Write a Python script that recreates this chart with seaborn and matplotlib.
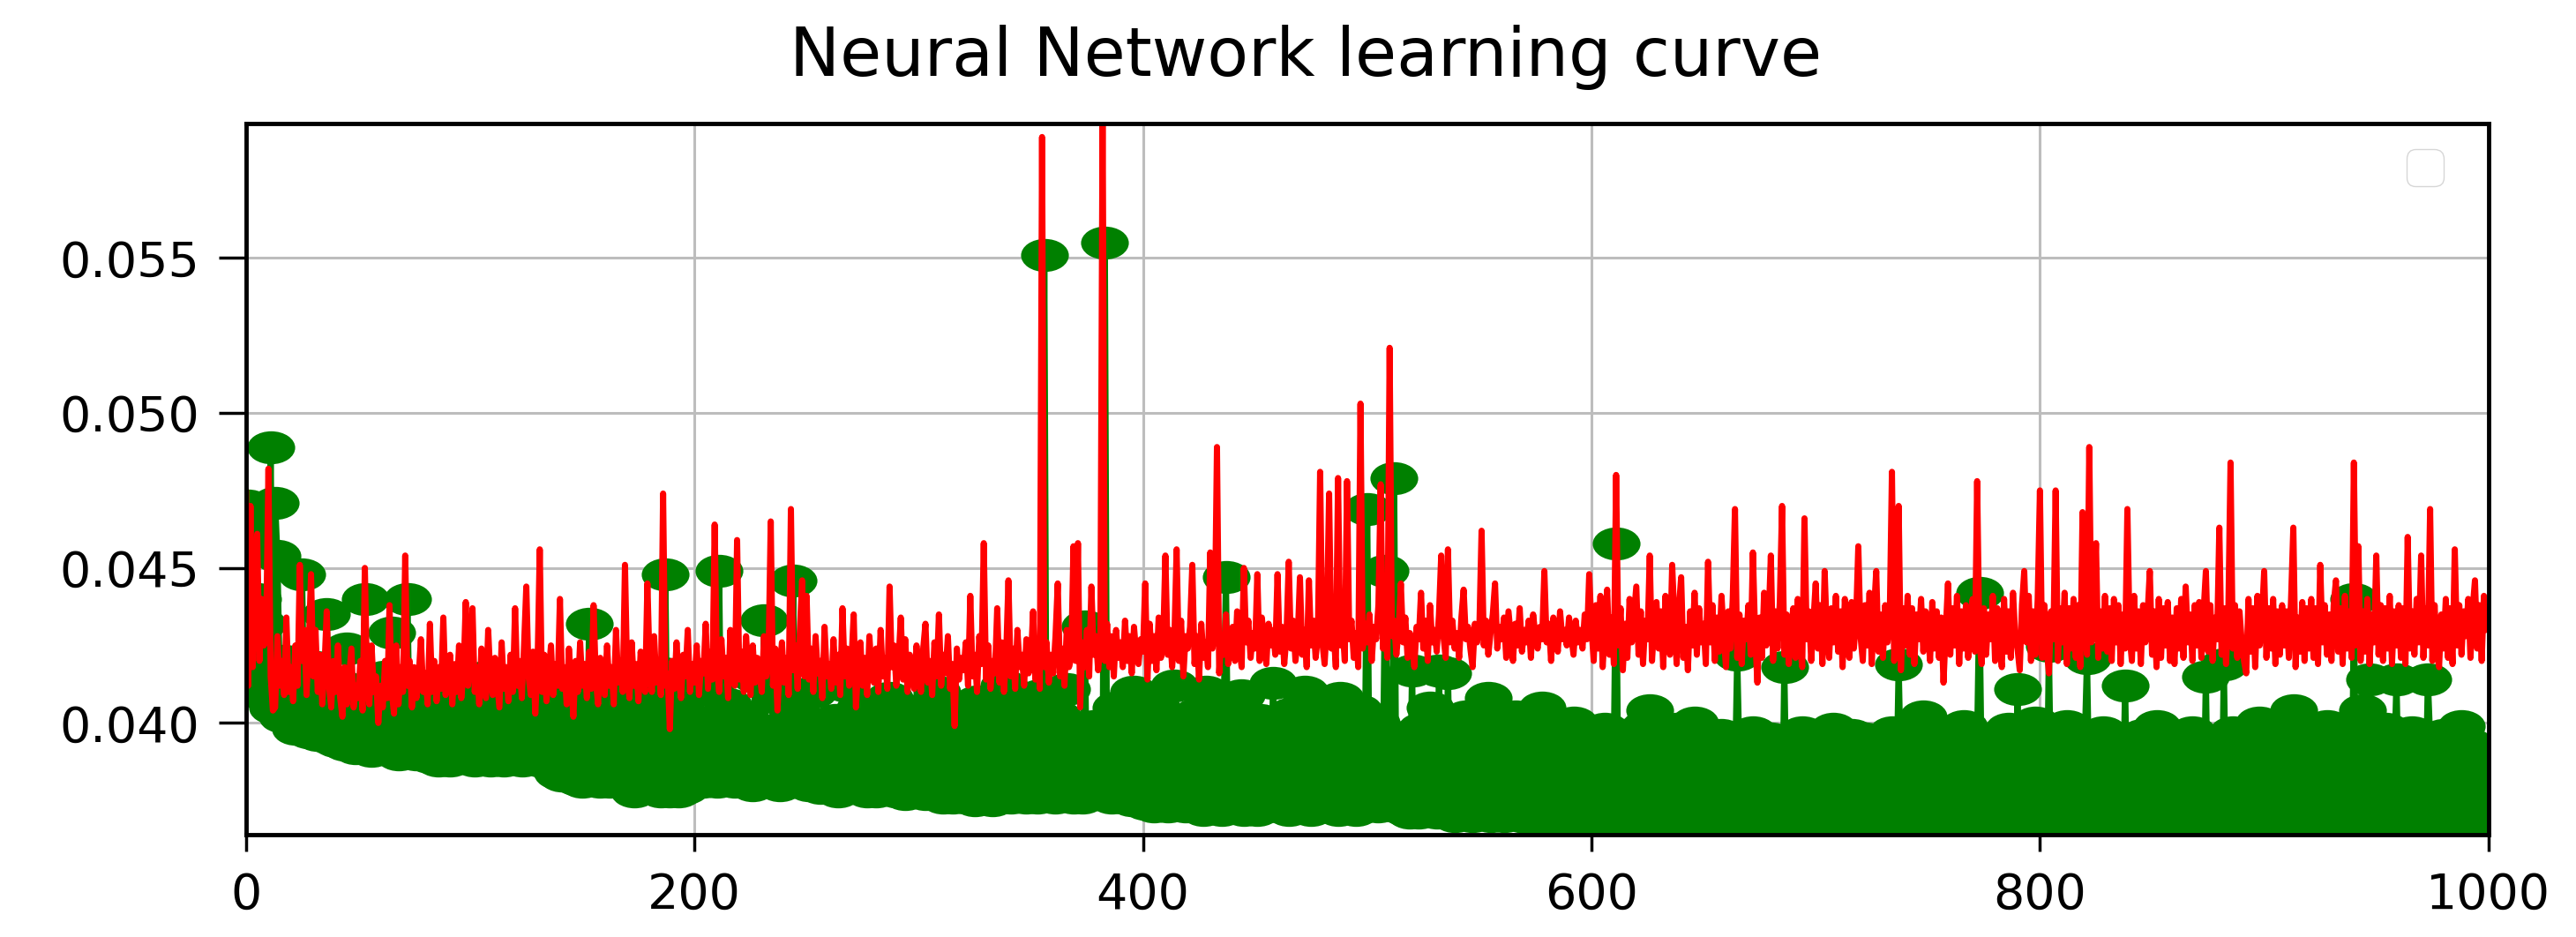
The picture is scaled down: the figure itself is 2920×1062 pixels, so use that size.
import numpy as np
import matplotlib
matplotlib.use("Agg")
import matplotlib.pyplot as plt
import seaborn as sns
from matplotlib.path import Path
from matplotlib.transforms import Affine2D

# loss per epoch, units of 1e-4
val_loss = [
    475, 412, 470, 418, 445, 461, 420, 440, 425, 430, 482, 415, 404, 405, 428, 412, 420, 409, 434, 410,
    418, 407, 425, 412, 451, 420, 430, 409, 425, 448, 415, 430, 410, 422, 406, 418, 436, 412, 405, 420,
    410, 425, 408, 402, 418, 406, 415, 424, 405, 412, 408, 420, 404, 450, 412, 406, 425, 410, 415, 400,
    412, 405, 420, 408, 438, 410, 403, 425, 406, 418, 410, 454, 412, 420, 405, 418, 408, 415, 427, 410,
    416, 406, 432, 410, 420, 407, 418, 411, 434, 409, 415, 422, 406, 419, 410, 425, 408, 416, 439, 412,
    420, 437, 410, 418, 406, 424, 412, 408, 430, 414, 409, 421, 413, 405, 426, 411, 418, 407, 422, 410,
    437, 412, 420, 408, 425, 444, 415, 409, 423, 403, 418, 456, 410, 422, 407, 416, 425, 409, 419, 412,
    440, 411, 418, 406, 424, 413, 402, 420, 410, 426, 412, 419, 408, 423, 411, 438, 414, 406, 421, 415,
    409, 425, 412, 418, 406, 430, 413, 420, 410, 451, 415, 408, 426, 412, 419, 407, 423, 414, 410, 445,
    418, 410, 428, 413, 420, 409, 474, 412, 416, 398, 420, 411, 426, 414, 408, 422, 415, 430, 410, 419,
    413, 425, 409, 420, 416, 432, 411, 423, 414, 464, 418, 410, 427, 415, 421, 408, 430, 416, 412, 459,
    414, 423, 410, 428, 417, 409, 425, 413, 421, 416, 410, 428, 415, 420, 465, 412, 424, 404, 418, 426,
    413, 421, 409, 469, 417, 425, 411, 430, 446, 415, 441, 414, 424, 410, 428, 416, 420, 408, 431, 415,
    419, 411, 427, 413, 422, 409, 437, 415, 424, 412, 420, 435, 405, 418, 426, 412, 421, 409, 428, 416,
    413, 424, 410, 430, 415, 421, 411, 444, 418, 425, 412, 420, 434, 414, 427, 410, 422, 416, 411, 425,
    418, 410, 424, 432, 413, 420, 409, 426, 415, 435, 412, 422, 416, 428, 411, 419, 399, 424, 414, 421,
    417, 426, 412, 441, 415, 422, 410, 428, 419, 458, 414, 425, 411, 420, 416, 437, 413, 426, 410, 422,
    446, 415, 424, 411, 430, 418, 422, 412, 427, 416, 420, 436, 414, 425, 411, 589, 418, 426, 413, 422,
    416, 428, 445, 415, 424, 412, 430, 418, 421, 457, 420, 458, 405, 426, 418, 430, 415, 444, 422, 428,
    417, 425, 600, 420, 432, 418, 428, 415, 430, 421, 426, 418, 433, 420, 428, 416, 431, 422, 419, 427,
    423, 445, 414, 432, 420, 428, 417, 434, 421, 426, 454, 422, 430, 418, 427, 456, 420, 433, 415, 428,
    424, 431, 451, 419, 428, 414, 432, 421, 426, 418, 455, 424, 430, 489, 416, 428, 422, 435, 419, 427,
    431, 420, 436, 424, 418, 450, 426, 433, 421, 429, 424, 448, 420, 434, 427, 419, 432, 425, 430, 422,
    448, 423, 431, 419, 428, 452, 424, 433, 420, 427, 447, 422, 430, 418, 446, 425, 433, 421, 428, 481,
    426, 419, 432, 474, 424, 430, 418, 479, 425, 431, 420, 478, 427, 433, 421, 429, 418, 503, 424, 432,
    426, 435, 420, 431, 427, 438, 477, 424, 430, 421, 521, 428, 433, 422, 430, 445, 426, 434, 421, 429,
    425, 418, 431, 427, 442, 424, 433, 420, 438, 426, 430, 423, 435, 454, 428, 421, 456, 426, 433, 424,
    429, 421, 434, 443, 427, 431, 424, 418, 432, 426, 430, 462, 425, 433, 422, 429, 435, 445, 424, 431,
    427, 434, 421, 436, 428, 420, 432, 425, 437, 423, 430, 426, 433, 421, 435, 428, 424, 431, 427, 449,
    426, 432, 420, 434, 429, 423, 436, 427, 430, 425, 434, 428, 422, 433, 426, 430, 424, 435, 427, 448,
    431, 420, 438, 424, 441, 418, 430, 443, 422, 434, 419, 480, 425, 437, 417, 432, 421, 440, 426, 435,
    444, 422, 436, 419, 433, 427, 454, 420, 432, 439, 424, 436, 418, 441, 428, 422, 451, 433, 419, 437,
    447, 421, 431, 417, 436, 425, 442, 422, 437, 426, 432, 419, 452, 426, 438, 420, 434, 423, 441, 428,
    418, 436, 424, 440, 469, 421, 435, 419, 433, 427, 438, 422, 455, 428, 413, 434, 421, 442, 425, 433,
    454, 420, 436, 424, 439, 470, 422, 435, 419, 430, 437, 421, 440, 425, 418, 466, 427, 436, 420, 433,
    445, 424, 438, 419, 449, 428, 421, 437, 426, 441, 423, 436, 418, 440, 427, 421, 439, 424, 433, 457,
    428, 420, 438, 425, 442, 419, 436, 449, 423, 435, 421, 438, 426, 433, 481, 420, 435, 470, 417, 437,
    425, 441, 422, 437, 419, 435, 427, 440, 423, 436, 431, 420, 439, 424, 436, 421, 434, 413, 430, 445,
    422, 437, 425, 441, 419, 436, 424, 438, 421, 433, 440, 423, 478, 426, 419, 437, 422, 435, 427, 441,
    420, 437, 425, 418, 440, 423, 436, 421, 442, 428, 424, 417, 438, 449, 426, 441, 420, 436, 422, 440,
    475, 421, 438, 424, 416, 436, 427, 475, 420, 437, 426, 442, 419, 437, 424, 440, 421, 438, 418, 468,
    430, 422, 489, 426, 439, 458, 421, 436, 424, 441, 423, 437, 420, 440, 426, 438, 419, 435, 424, 469,
    428, 420, 441, 424, 436, 419, 438, 426, 435, 449, 422, 436, 418, 440, 421, 437, 425, 439, 420, 434,
    419, 437, 424, 440, 421, 444, 426, 435, 420, 438, 425, 439, 421, 436, 449, 423, 438, 420, 434, 427,
    463, 422, 437, 419, 435, 484, 424, 438, 421, 436, 426, 420, 416, 440, 423, 437, 418, 441, 425, 434,
    449, 421, 437, 424, 440, 419, 436, 422, 438, 425, 436, 421, 440, 463, 418, 434, 423, 439, 420, 437,
    424, 440, 421, 437, 419, 451, 426, 438, 422, 435, 420, 438, 446, 423, 437, 419, 441, 424, 436, 421,
    484, 425, 457, 420, 436, 423, 440, 419, 435, 426, 454, 422, 438, 420, 437, 424, 441, 419, 436, 425,
    438, 421, 437, 419, 460, 424, 436, 422, 440, 426, 454, 421, 437, 425, 469, 420, 438, 423, 418, 435,
    424, 440, 421, 437, 419, 456, 425, 438, 422, 436, 428, 440, 421, 437, 446, 424, 438, 420, 441, 430,
]

train_loss = [
    455, 470, 431, 463, 425, 440, 418, 432, 412, 420, 408, 489, 405, 471, 454, 415, 402, 420, 408, 412,
    401, 410, 398, 415, 404, 448, 400, 412, 397, 406, 398, 418, 396, 404, 410, 399, 435, 402, 395, 408,
    394, 405, 412, 398, 393, 424, 401, 396, 410, 392, 399, 393, 405, 440, 395, 402, 391, 410, 396, 403,
    392, 400, 415, 394, 398, 429, 393, 405, 390, 397, 402, 391, 440, 396, 392, 408, 390, 399, 394, 404,
    391, 397, 389, 406, 393, 400, 388, 395, 412, 389, 396, 388, 403, 391, 398, 389, 410, 393, 389, 401,
    390, 396, 388, 405, 392, 389, 398, 415, 391, 388, 395, 389, 402, 390, 397, 388, 409, 392, 389, 396,
    389, 400, 391, 388, 412, 393, 389, 397, 390, 404, 392, 388, 398, 390, 407, 389, 395, 386, 400, 384,
    391, 383, 396, 388, 410, 385, 392, 382, 399, 386, 381, 394, 386, 432, 382, 390, 385, 405, 381, 393,
    384, 398, 381, 389, 412, 383, 391, 381, 402, 386, 381, 393, 385, 378, 399, 382, 409, 384, 380, 395,
    379, 387, 401, 380, 392, 378, 416, 448, 383, 378, 396, 381, 388, 378, 404, 383, 379, 393, 386, 410,
    382, 390, 384, 400, 381, 395, 383, 412, 386, 392, 381, 449, 385, 397, 382, 406, 384, 391, 381, 398,
    385, 381, 402, 387, 382, 393, 380, 415, 384, 389, 381, 433, 384, 396, 381, 390, 383, 408, 380, 387,
    399, 382, 391, 385, 446, 381, 403, 384, 389, 381, 395, 380, 386, 410, 382, 392, 379, 398, 383, 387,
    379, 394, 382, 401, 378, 389, 384, 412, 380, 392, 381, 386, 397, 379, 405, 383, 390, 378, 395, 382,
    388, 378, 402, 381, 393, 379, 387, 408, 380, 391, 378, 396, 382, 389, 377, 404, 381, 392, 378, 386,
    398, 379, 385, 377, 401, 382, 390, 378, 410, 381, 387, 376, 395, 380, 384, 376, 403, 379, 391, 377,
    383, 376, 398, 380, 388, 375, 407, 379, 385, 376, 394, 377, 383, 375, 400, 378, 389, 376, 412, 380,
    386, 376, 397, 381, 377, 404, 379, 390, 376, 384, 377, 399, 382, 376, 409, 388, 551, 380, 393, 377,
    386, 376, 402, 379, 390, 377, 411, 381, 385, 376, 395, 378, 388, 376, 431, 380, 392, 377, 399, 383,
    377, 390, 381, 555, 378, 396, 376, 385, 405, 379, 388, 376, 399, 380, 386, 375, 410, 378, 391, 376,
    384, 374, 397, 379, 388, 373, 405, 377, 392, 374, 386, 373, 399, 378, 412, 374, 390, 376, 383, 373,
    395, 377, 386, 373, 403, 375, 389, 372, 410, 378, 384, 373, 396, 376, 389, 372, 404, 447, 381, 375,
    392, 373, 385, 378, 409, 372, 388, 375, 396, 373, 383, 372, 401, 376, 390, 373, 385, 374, 413, 377,
    388, 373, 395, 376, 384, 372, 403, 378, 391, 373, 386, 374, 410, 377, 389, 372, 397, 375, 384, 373,
    402, 376, 388, 373, 395, 374, 386, 372, 408, 377, 383, 373, 399, 376, 390, 372, 404, 385, 375, 393,
    469, 380, 391, 375, 400, 373, 386, 384, 449, 396, 389, 378, 479, 373, 387, 376, 395, 372, 384, 371,
    417, 374, 386, 371, 398, 375, 389, 372, 405, 376, 384, 371, 417, 375, 390, 372, 416, 378, 386, 370,
    397, 373, 385, 371, 402, 376, 389, 370, 395, 374, 383, 371, 392, 376, 408, 370, 386, 374, 399, 372,
    388, 370, 396, 375, 384, 371, 402, 373, 390, 370, 385, 372, 398, 369, 389, 374, 383, 370, 405, 373,
    391, 369, 386, 373, 397, 370, 384, 375, 393, 369, 387, 371, 400, 370, 385, 374, 392, 369, 388, 372,
    384, 368, 395, 376, 389, 366, 398, 373, 386, 379, 392, 458, 374, 367, 396, 378, 388, 365, 385, 372,
    391, 369, 377, 365, 399, 374, 404, 367, 380, 366, 383, 375, 396, 365, 388, 371, 378, 364, 398, 369,
    386, 365, 377, 368, 392, 373, 400, 366, 379, 365, 384, 372, 395, 364, 387, 376, 369, 382, 396, 368,
    376, 365, 390, 371, 382, 422, 388, 364, 377, 366, 383, 373, 397, 365, 378, 368, 392, 374, 381, 364,
    395, 366, 376, 370, 390, 365, 418, 374, 387, 365, 378, 365, 393, 372, 397, 368, 375, 365, 391, 370,
    383, 374, 394, 367, 377, 365, 388, 371, 398, 364, 376, 365, 392, 370, 383, 368, 396, 374, 389, 366,
    384, 372, 395, 365, 378, 367, 387, 370, 393, 366, 375, 364, 388, 371, 397, 365, 378, 419, 383, 368,
    394, 366, 377, 364, 391, 373, 384, 369, 402, 375, 385, 364, 376, 366, 393, 372, 396, 365, 379, 367,
    390, 370, 386, 366, 377, 364, 399, 374, 392, 365, 378, 366, 395, 442, 384, 371, 390, 366, 376, 364,
    393, 372, 385, 367, 378, 364, 398, 373, 388, 366, 411, 375, 387, 366, 392, 369, 378, 365, 400, 372,
    389, 365, 377, 367, 425, 373, 386, 366, 396, 370, 376, 366, 399, 372, 388, 364, 391, 375, 385, 368,
    395, 421, 378, 365, 392, 371, 384, 368, 397, 374, 377, 366, 393, 370, 388, 364, 384, 375, 412, 367,
    391, 373, 385, 366, 378, 365, 396, 371, 389, 367, 376, 365, 399, 372, 387, 364, 392, 377, 385, 369,
    394, 367, 378, 364, 391, 373, 383, 368, 397, 375, 388, 365, 376, 371, 415, 366, 386, 374, 392, 367,
    378, 364, 419, 372, 390, 365, 397, 375, 384, 366, 391, 370, 386, 364, 377, 365, 395, 373, 400, 368,
    386, 376, 393, 365, 384, 371, 398, 364, 378, 366, 392, 373, 387, 404, 377, 365, 396, 370, 389, 364,
    385, 374, 394, 364, 378, 369, 388, 365, 399, 372, 376, 364, 389, 371, 393, 366, 385, 375, 397, 365,
    440, 366, 377, 372, 404, 364, 391, 414, 386, 373, 393, 365, 378, 370, 398, 366, 389, 374, 387, 414,
    377, 364, 392, 372, 385, 366, 397, 375, 388, 367, 391, 371, 378, 414, 395, 364, 389, 373, 384, 366,
    396, 374, 388, 365, 377, 369, 392, 366, 399, 372, 387, 364, 393, 376, 386, 368, 390, 373, 384, 365,
]

x_ticks = [0, 200, 400, 600, 800, 1000]
y_ticks = [0.040, 0.045, 0.050, 0.055]
title = "Neural Network learning curve"

epochs = np.arange(len(train_loss))
train = np.array(train_loss) / 1e4
val = np.array(val_loss) / 1e4

sns.set_style("ticks", {"axes.grid": True, "grid.color": "#bdbdbd", "axes.edgecolor": "black"})
plt.rcParams["font.family"] = ["DejaVu Sans"]

fig = plt.figure(figsize=(29.2, 10.62), dpi=100)
ax = fig.add_axes([0.0955, 0.109, 0.8705, 0.759])

# the source picture is stretched sideways, so the dots are ellipses
blob = Path.unit_circle().transformed(Affine2D().scale(1.45, 1.0))

sns.lineplot(x=epochs, y=train, color="green", marker=blob, markersize=39,
             markeredgewidth=0, markeredgecolor="green", linewidth=5,
             estimator=None, sort=False, ax=ax)
sns.lineplot(x=epochs, y=val, color="red", linewidth=5,
             estimator=None, sort=False, ax=ax)

ax.set_xlim(0, 1000)
ax.set_ylim(0.03639, 0.05933)
ax.set_xticks(x_ticks)
ax.set_yticks(y_ticks)
ax.set_yticklabels(["%.3f" % t for t in y_ticks])
ax.set_xlabel("")
ax.set_ylabel("")
ax.grid(True, color="#bdbdbd", linewidth=2.2)
for s in ax.spines.values():
    s.set_linewidth(3.5)
    s.set_color("black")
ax.tick_params(labelsize=40, width=2.5, pad=16, colors="black")
ax.tick_params(axis="y", length=22)
ax.tick_params(axis="x", length=14)

ax.legend(loc="upper right", fontsize=38, borderaxespad=0,
          bbox_to_anchor=(0.980, 0.964))

fig.text(0.507, 0.939, title, ha="center", va="center", fontsize=55, color="black")

fig.savefig("out.png", dpi=100)
